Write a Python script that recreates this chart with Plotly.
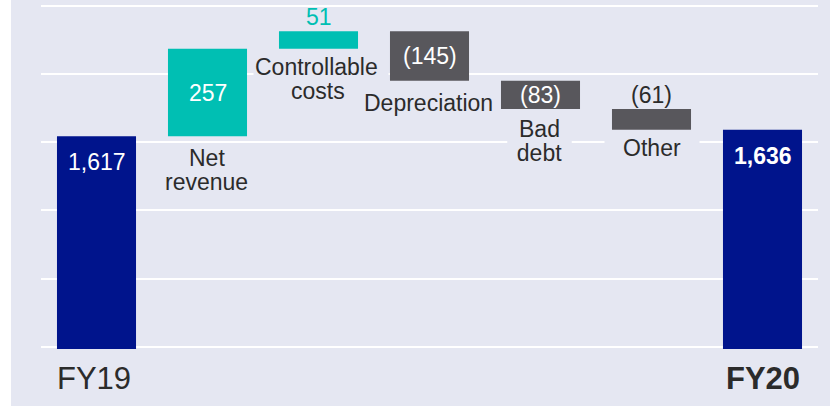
import plotly.graph_objects as go

# ---------------- data ----------------
categories = ["FY19", "Net revenue", "Controllable costs", "Depreciation", "Bad debt", "Other", "FY20"]
measures = ["absolute", "relative", "relative", "relative", "relative", "relative", "total"]
values = [1617, 257, 51, -145, -83, -61, 0]
value_labels = ["1,617", "257", "51", "(145)", "(83)", "(61)", "1,636"]
category_lines = [["FY19"], ["Net", "revenue"], ["Controllable", "costs"], ["Depreciation"],
                  ["Bad", "debt"], ["Other"], ["FY20"]]

# ---------------- style ----------------
NAVY = "#00148C"
TEAL = "#00BFB3"
GREY = "#58575C"
BG = "#E5E7F2"
TEXT = "#2B2B2B"
FONT = "Liberation Sans, Arial, Helvetica, sans-serif"

# running totals for label placement
ends = []
starts = []
run = 0
for m, v in zip(measures, values):
    if m == "absolute":
        starts.append(0); run = v; ends.append(run)
    elif m == "relative":
        starts.append(run); run += v; ends.append(run)
    else:
        starts.append(0); ends.append(run)

fig = go.Figure(go.Waterfall(
    x=categories,
    measure=measures,
    y=values,
    increasing=dict(marker=dict(color=TEAL)),
    decreasing=dict(marker=dict(color=GREY)),
    totals=dict(marker=dict(color=NAVY)),
    connector=dict(visible=False),
    hoverinfo="skip",
))

annotations = []
# value labels
value_place = ["inside_top", "mid", "above", "mid", "mid", "above", "inside_top"]
value_color = ["white", "white", TEAL, "white", "white", TEXT, "white"]
value_bold = [False, False, False, False, False, False, True]
for i, cat in enumerate(categories):
    lo, hi = min(starts[i], ends[i]), max(starts[i], ends[i])
    place = value_place[i]
    if place == "mid":
        y, shift = (lo + hi) / 2, 0
    elif place == "above":
        y, shift = hi, 14.5
    else:
        y, shift = hi, -26
    txt = value_labels[i]
    if value_bold[i]:
        txt = "<b>" + txt + "</b>"
    annotations.append(dict(x=cat, y=y, xref="x", yref="y", text=txt, showarrow=False,
                            yanchor="middle", yshift=shift,
                            font=dict(family=FONT, size=23, color=value_color[i])))

# category labels
cat_shift = [-32, -33.5, -30.6, -21.8, -32, -18.3, -32]
cat_xshift = [-2.5, -1, -1, -1.3, -1, 0.3, 0]
cat_size = [31, 23, 23, 23, 23, 23, 31]
# per-line box settings (width, align, extra xshift) for labels that mask gridlines
box = {("Controllable costs", 0): (132, "left", 3.5),
       ("Bad debt", 0): (61, "center", 0), ("Bad debt", 1): (61, "center", 0),
       ("Other", 0): (92, "center", 0)}
LINE = 24
for i, cat in enumerate(categories):
    if cat in ("FY19", "FY20"):
        base_y = 1000
    else:
        base_y = min(starts[i], ends[i])
    lines = category_lines[i]
    n = len(lines)
    for j, ln in enumerate(lines):
        txt = "<b>" + ln + "</b>" if cat == "FY20" else ln
        a = dict(x=cat, y=base_y, xref="x", yref="y", text=txt, showarrow=False,
                 yanchor="middle", yshift=cat_shift[i] - (j - (n - 1) / 2) * LINE,
                 xshift=cat_xshift[i],
                 font=dict(family=FONT, size=cat_size[i], color=TEXT),
                 bgcolor=BG, borderpad=1)
        if (cat, j) in box:
            w, al, dx = box[(cat, j)]
            a["width"] = w
            a["align"] = al
            a["xshift"] = cat_xshift[i] + dx
        annotations.append(a)

fig.update_layout(
    width=830, height=407,
    margin=dict(l=41, r=12, t=2, b=58),
    paper_bgcolor="white",
    plot_bgcolor=BG,
    showlegend=False,
    waterfallgap=0.288,
    xaxis=dict(showticklabels=False, showgrid=False, zeroline=False, showline=False,
               range=[-0.5, 6.5], fixedrange=True),
    yaxis=dict(range=[993.3, 2011], tick0=1000, dtick=200, showticklabels=False,
               showgrid=True, gridcolor="white", gridwidth=2, zeroline=False, showline=False,
               fixedrange=True),
    annotations=annotations,
    shapes=[dict(type="rect", xref="paper", yref="paper",
                 x0=-30 / 777, x1=1 + 12 / 777, y0=-57 / 347, y1=1 + 2 / 347,
                 fillcolor=BG, line=dict(width=0), layer="below")],
)

fig.write_html("out.html", config={"displayModeBar": False},
               post_script="document.body.style.margin='0';document.body.style.overflow='hidden';")
